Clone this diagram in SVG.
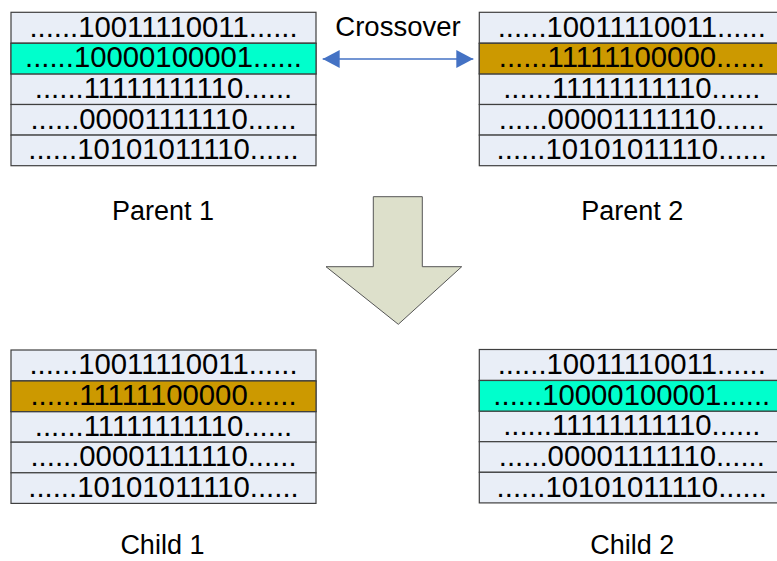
<svg xmlns="http://www.w3.org/2000/svg" width="777" height="561" viewBox="0 0 777 561">
<style>
text{font-family:"Liberation Sans",Arial,sans-serif;fill:#000}
.row{fill:#E9EEF7;stroke:#3F3F3F;stroke-width:1.2}
.teal{fill:#00FFCC}
.gold{fill:#CC9900}
.bits{font-size:29.3px;text-anchor:middle}
.lbl{font-size:27px;text-anchor:middle}
</style>
<defs>
<marker id="ah" markerWidth="18" markerHeight="18" refX="17" refY="9" orient="auto-start-reverse" markerUnits="userSpaceOnUse">
<path d="M0,0 L17,9 L0,18 Z" fill="#4472C4"/>
</marker>
<g id="tbl">
<rect class="row" x="0" y="0" width="305" height="31"/>
<rect class="row" x="0" y="31" width="305" height="30.6"/>
<rect class="row" x="0" y="61.6" width="305" height="30.6"/>
<rect class="row" x="0" y="92.2" width="305" height="30.6"/>
<rect class="row" x="0" y="122.8" width="305" height="30.6"/>
</g>
</defs>
<g id="parent1" transform="translate(11,12.3)">
<use href="#tbl"/>
<rect class="row teal" x="0" y="31" width="305" height="30.6"/>
<text class="bits" x="152.5" y="24.4">......10011110011......</text>
<text class="bits" x="152.5" y="55.2">......10000100001......</text>
<text class="bits" x="152.5" y="85.8">......11111111110......</text>
<text class="bits" x="152.5" y="116.4">......00001111110......</text>
<text class="bits" x="152.5" y="147">......10101011110......</text>
</g>
<g id="parent2" transform="translate(479.3,12.3)">
<use href="#tbl"/>
<rect class="row gold" x="0" y="31" width="305" height="30.6"/>
<text class="bits" x="152.5" y="24.4">......10011110011......</text>
<text class="bits" x="152.5" y="55.2">......11111100000......</text>
<text class="bits" x="152.5" y="85.8">......11111111110......</text>
<text class="bits" x="152.5" y="116.4">......00001111110......</text>
<text class="bits" x="152.5" y="147">......10101011110......</text>
</g>
<g id="child1" transform="translate(11,350)">
<use href="#tbl"/>
<rect class="row gold" x="0" y="31" width="305" height="30.6"/>
<text class="bits" x="152.5" y="24.4">......10011110011......</text>
<text class="bits" x="152.5" y="55.2">......11111100000......</text>
<text class="bits" x="152.5" y="85.8">......11111111110......</text>
<text class="bits" x="152.5" y="116.4">......00001111110......</text>
<text class="bits" x="152.5" y="147">......10101011110......</text>
</g>
<g id="child2" transform="translate(479.3,349.5)">
<use href="#tbl"/>
<rect class="row teal" x="0" y="31" width="305" height="30.6"/>
<text class="bits" x="152.5" y="24.4">......10011110011......</text>
<text class="bits" x="152.5" y="55.2">......10000100001......</text>
<text class="bits" x="152.5" y="85.8">......11111111110......</text>
<text class="bits" x="152.5" y="116.4">......00001111110......</text>
<text class="bits" x="152.5" y="147">......10101011110......</text>
</g>
<g id="labels">
<text class="lbl" x="163" y="220">Parent 1</text>
<text class="lbl" x="632.3" y="220">Parent 2</text>
<text class="lbl" x="162.4" y="554.3">Child 1</text>
<text class="lbl" x="632.3" y="554.3">Child 2</text>
<text x="398" y="36" style="font-size:27.5px;text-anchor:middle">Crossover</text>
</g>
<g id="connectors">
<line x1="322.7" y1="59" x2="473.3" y2="59" stroke="#4472C4" stroke-width="1.5" marker-start="url(#ah)" marker-end="url(#ah)"/>
<path id="bigarrow" d="M373.3,196.7 L422.3,196.7 L422.3,266.7 L461.7,266.7 L398.3,324.3 L326,266.7 L373.3,266.7 Z" fill="#DDE0CB" stroke="#555" stroke-width="1"/>
</g>
</svg>
